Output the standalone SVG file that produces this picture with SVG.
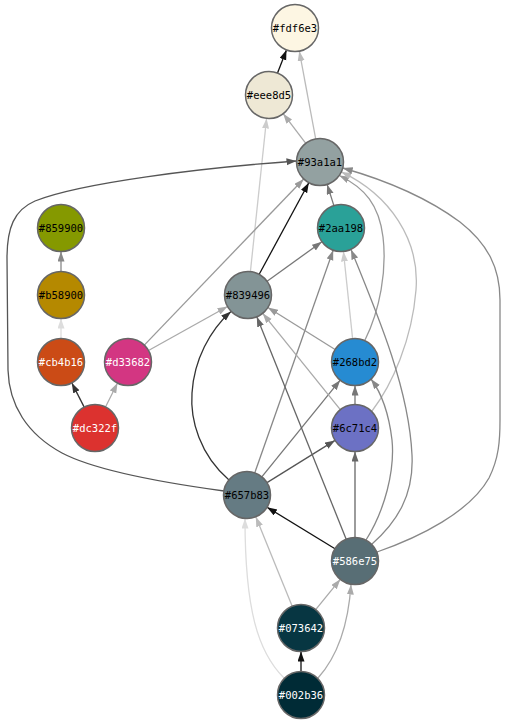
<svg xmlns="http://www.w3.org/2000/svg" width="507" height="725" viewBox="0 0 507 725">
<style>
.n circle{stroke:#666;stroke-width:1.5}
.n text{font-family:"DejaVu Sans Mono","Liberation Mono",monospace;font-size:10.5px;text-anchor:middle;dominant-baseline:central}
.d text{fill:#000}
.w text{fill:#fff}
#edges path{fill:none;stroke-width:1.3}
</style>
<defs>
<marker id="a111" markerUnits="userSpaceOnUse" markerWidth="10" markerHeight="8" refX="10" refY="3.5" orient="auto"><path d="M0,0L10,3.5L0,7z" fill="#111"/></marker>
<marker id="a333" markerUnits="userSpaceOnUse" markerWidth="10" markerHeight="8" refX="10" refY="3.5" orient="auto"><path d="M0,0L10,3.5L0,7z" fill="#333"/></marker>
<marker id="a555" markerUnits="userSpaceOnUse" markerWidth="10" markerHeight="8" refX="10" refY="3.5" orient="auto"><path d="M0,0L10,3.5L0,7z" fill="#555"/></marker>
<marker id="a666" markerUnits="userSpaceOnUse" markerWidth="10" markerHeight="8" refX="10" refY="3.5" orient="auto"><path d="M0,0L10,3.5L0,7z" fill="#666"/></marker>
<marker id="a777" markerUnits="userSpaceOnUse" markerWidth="10" markerHeight="8" refX="10" refY="3.5" orient="auto"><path d="M0,0L10,3.5L0,7z" fill="#777"/></marker>
<marker id="a888" markerUnits="userSpaceOnUse" markerWidth="10" markerHeight="8" refX="10" refY="3.5" orient="auto"><path d="M0,0L10,3.5L0,7z" fill="#888"/></marker>
<marker id="a999" markerUnits="userSpaceOnUse" markerWidth="10" markerHeight="8" refX="10" refY="3.5" orient="auto"><path d="M0,0L10,3.5L0,7z" fill="#999"/></marker>
<marker id="aaaa" markerUnits="userSpaceOnUse" markerWidth="10" markerHeight="8" refX="10" refY="3.5" orient="auto"><path d="M0,0L10,3.5L0,7z" fill="#aaa"/></marker>
<marker id="abbb" markerUnits="userSpaceOnUse" markerWidth="10" markerHeight="8" refX="10" refY="3.5" orient="auto"><path d="M0,0L10,3.5L0,7z" fill="#bbb"/></marker>
<marker id="accc" markerUnits="userSpaceOnUse" markerWidth="10" markerHeight="8" refX="10" refY="3.5" orient="auto"><path d="M0,0L10,3.5L0,7z" fill="#ccc"/></marker>
<marker id="addd" markerUnits="userSpaceOnUse" markerWidth="10" markerHeight="8" refX="10" refY="3.5" orient="auto"><path d="M0,0L10,3.5L0,7z" fill="#ddd"/></marker>
</defs>
<rect width="507" height="725" fill="#fff"/>
<g id="edges">
<path d="M277.5,73.1L286.5,49.9" stroke="#111" marker-end="url(#a111)"/>
<path d="M315.7,138.9L299.3,51.1" stroke="#bbb" marker-end="url(#abbb)"/>
<path d="M305.8,143.3L283.2,113.7" stroke="#aaa" marker-end="url(#aaaa)"/>
<path d="M250.4,271.6L266.6,118.4" stroke="#ccc" marker-end="url(#accc)"/>
<path d="M259.2,274.3L308.8,182.7" stroke="#111" marker-end="url(#a111)"/>
<path d="M224,491C180,485 100,473 62,453C27,434 9,405 8,370L7,258C7,228 14,210 35,201C80,183 200,168 296.5,161" stroke="#555" marker-end="url(#a555)"/>
<path d="M144.3,345.1L303.7,179" stroke="#999" marker-end="url(#a999)"/>
<path d="M333.9,205.6L327.1,184.4" stroke="#777" marker-end="url(#a777)"/>
<path d="M365,340C380,310 387,270 383,237C379,205 365,188 339.3,175.5" stroke="#999" marker-end="url(#a999)"/>
<path d="M372,411C392,385 412,340 416,290C420,240 390,195 341.3,171.9" stroke="#bbb" marker-end="url(#abbb)"/>
<path d="M377,552C420,537 470,512 489,478C499,458 500,440 500,420L500,300C500,268 488,244 460,222C425,196 385,180 342.7,168" stroke="#888" marker-end="url(#a888)"/>
<path d="M61,271.5L61,251.5" stroke="#888" marker-end="url(#a888)"/>
<path d="M61,338.5L61,318.5" stroke="#ddd" marker-end="url(#addd)"/>
<path d="M84.2,407.1L71.8,382.9" stroke="#333" marker-end="url(#a333)"/>
<path d="M105.5,407L117.5,383" stroke="#aaa" marker-end="url(#aaaa)"/>
<path d="M148.5,350.5L227.5,306.5" stroke="#aaa" marker-end="url(#aaaa)"/>
<path d="M267.1,281.3L321.9,241.7" stroke="#777" marker-end="url(#a777)"/>
<path d="M229,480C200,455 190,420 192,393C194,360 210,330 231,311.5" stroke="#333" marker-end="url(#a333)"/>
<path d="M254.8,472.8L333.2,250.2" stroke="#888" marker-end="url(#a888)"/>
<path d="M261.8,476.8L340.2,380.2" stroke="#777" marker-end="url(#a777)"/>
<path d="M267,482.6L335,440.4" stroke="#555" marker-end="url(#a555)"/>
<path d="M335.1,349.5L267.9,307.5" stroke="#999" marker-end="url(#a999)"/>
<path d="M352.6,338.6L343.4,251.4" stroke="#ccc" marker-end="url(#accc)"/>
<path d="M355,404.5L355,385.5" stroke="#777" marker-end="url(#a777)"/>
<path d="M340.3,409.7L262.7,313.3" stroke="#aaa" marker-end="url(#aaaa)"/>
<path d="M346.2,539.2L256.8,316.8" stroke="#666" marker-end="url(#a666)"/>
<path d="M335,548.8L267,507.2" stroke="#111" marker-end="url(#a111)"/>
<path d="M355,537.5L355,451.5" stroke="#666" marker-end="url(#a666)"/>
<path d="M366,540C385,510 395,470 392,440C389,415 383,395 371,379" stroke="#888" marker-end="url(#a888)"/>
<path d="M372,544C397,522 414,495 412,455C409,390 380,320 351,249.5" stroke="#888" marker-end="url(#a888)"/>
<path d="M315.7,609.7L340.3,579.3" stroke="#aaa" marker-end="url(#aaaa)"/>
<path d="M292.2,606.2L255.8,516.8" stroke="#bbb" marker-end="url(#abbb)"/>
<path d="M301,671.5L301,651.5" stroke="#111" marker-end="url(#a111)"/>
<path d="M318,678C336,658 348,630 351,584.5" stroke="#aaa" marker-end="url(#aaaa)"/>
<path d="M284,678C258,652 245,610 245,518.5" stroke="#ddd" marker-end="url(#addd)"/>
</g>
<g id="n-fdf6e3" class="n d"><circle cx="295" cy="28" r="23.5" fill="#fdf6e3"/><text x="295" y="28">#fdf6e3</text></g>
<g id="n-eee8d5" class="n d"><circle cx="269" cy="95" r="23.5" fill="#eee8d5"/><text x="269" y="95">#eee8d5</text></g>
<g id="n-93a1a1" class="n d"><circle cx="320" cy="162" r="23.5" fill="#93a1a1"/><text x="320" y="162">#93a1a1</text></g>
<g id="n-859900" class="n d"><circle cx="61" cy="228" r="23.5" fill="#859900"/><text x="61" y="228">#859900</text></g>
<g id="n-2aa198" class="n d"><circle cx="341" cy="228" r="23.5" fill="#2aa198"/><text x="341" y="228">#2aa198</text></g>
<g id="n-b58900" class="n d"><circle cx="61" cy="295" r="23.5" fill="#b58900"/><text x="61" y="295">#b58900</text></g>
<g id="n-839496" class="n d"><circle cx="248" cy="295" r="23.5" fill="#839496"/><text x="248" y="295">#839496</text></g>
<g id="n-cb4b16" class="n w"><circle cx="61" cy="362" r="23.5" fill="#cb4b16"/><text x="61" y="362">#cb4b16</text></g>
<g id="n-d33682" class="n w"><circle cx="128" cy="362" r="23.5" fill="#d33682"/><text x="128" y="362">#d33682</text></g>
<g id="n-268bd2" class="n d"><circle cx="355" cy="362" r="23.5" fill="#268bd2"/><text x="355" y="362">#268bd2</text></g>
<g id="n-dc322f" class="n w"><circle cx="95" cy="428" r="23.5" fill="#dc322f"/><text x="95" y="428">#dc322f</text></g>
<g id="n-6c71c4" class="n d"><circle cx="355" cy="428" r="23.5" fill="#6c71c4"/><text x="355" y="428">#6c71c4</text></g>
<g id="n-657b83" class="n d"><circle cx="247" cy="495" r="23.5" fill="#657b83"/><text x="247" y="495">#657b83</text></g>
<g id="n-586e75" class="n w"><circle cx="355" cy="561" r="23.5" fill="#586e75"/><text x="355" y="561">#586e75</text></g>
<g id="n-073642" class="n w"><circle cx="301" cy="628" r="23.5" fill="#073642"/><text x="301" y="628">#073642</text></g>
<g id="n-002b36" class="n w"><circle cx="301" cy="695" r="23.5" fill="#002b36"/><text x="301" y="695">#002b36</text></g>
</svg>
